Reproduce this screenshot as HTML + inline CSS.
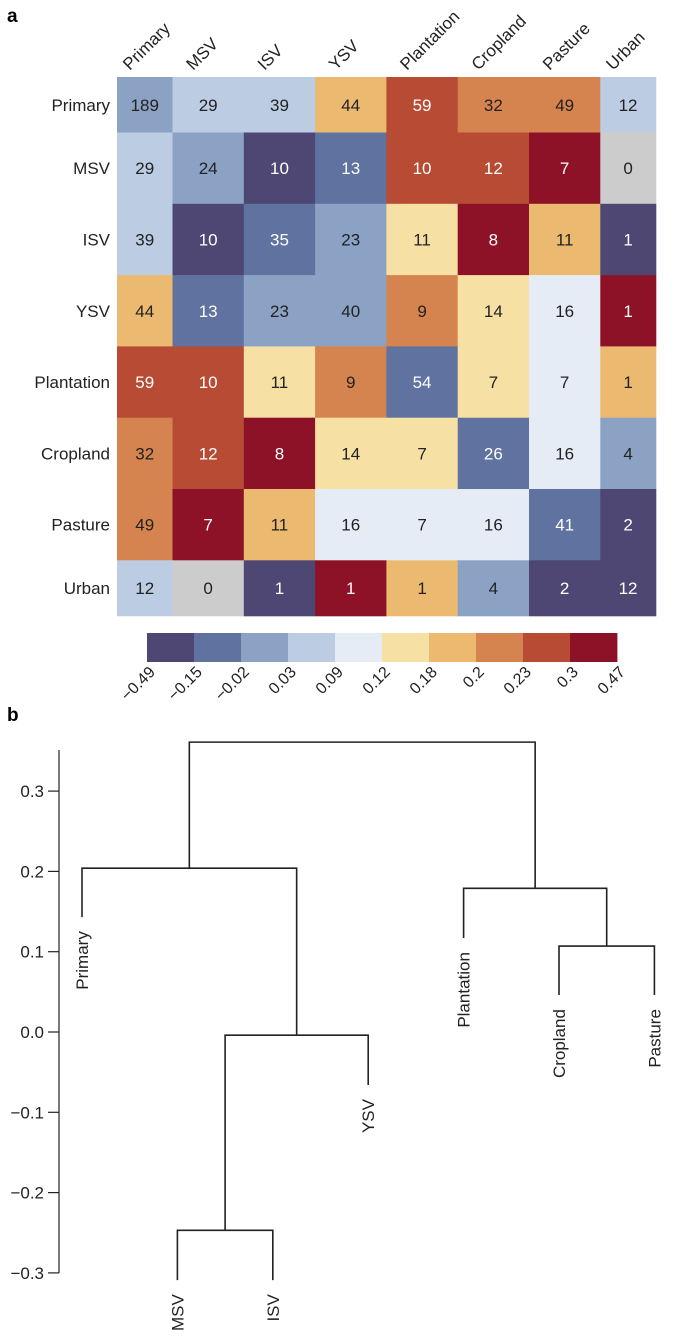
<!DOCTYPE html>
<html><head><meta charset="utf-8">
<style>
html,body{margin:0;padding:0;background:#fff;}
svg{display:block;font-family:"Liberation Sans",sans-serif;}
</style></head>
<body>
<svg id="fig" width="685" height="1337" viewBox="0 0 685 1337">
<text x="7" y="22" font-size="19" font-weight="bold">a</text>
<text x="7" y="721" font-size="19" font-weight="bold">b</text>
<g id="heat"></g>
<g id="cbar"></g>
<g id="dendro"></g>
</svg>
<script>
const categories = ["Primary","MSV","ISV","YSV","Plantation","Cropland","Pasture","Urban"];
const counts = [
 [189,29,39,44,59,32,49,12],
 [29,24,10,13,10,12,7,0],
 [39,10,35,23,11,8,11,1],
 [44,13,23,40,9,14,16,1],
 [59,10,11,9,54,7,7,1],
 [32,12,8,14,7,26,16,4],
 [49,7,11,16,7,16,41,2],
 [12,0,1,1,1,4,2,12]
];
// correlation values (null = not available, grey)
const corr = [
 [0.0,0.06,0.06,0.19,0.26,0.21,0.21,0.06],
 [0.06,0.0,-0.3,-0.1,0.26,0.26,0.4,null],
 [0.06,-0.3,-0.1,0.0,0.15,0.4,0.19,-0.3],
 [0.19,-0.1,0.0,0.0,0.21,0.15,0.1,0.4],
 [0.26,0.26,0.15,0.21,-0.1,0.15,0.1,0.19],
 [0.21,0.26,0.4,0.15,0.15,-0.1,0.1,0.0],
 [0.21,0.4,0.19,0.1,0.1,0.1,-0.1,-0.3],
 [0.06,null,-0.3,0.4,0.19,0.0,-0.3,-0.3]
];
const breaks = [-0.49,-0.15,-0.02,0.03,0.09,0.12,0.18,0.2,0.23,0.3,0.47];
const breakLabels = ["\u22120.49","\u22120.15","\u22120.02","0.03","0.09","0.12","0.18","0.2","0.23","0.3","0.47"];
const palette = ["#4e4774","#5f72a0","#8ba2c4","#bccde3","#e6ecf5","#f7e0a4","#ebba70","#d5844f","#b74b33","#8d1227"];

const leafNames = ["Primary","MSV","ISV","YSV","Plantation","Cropland","Pasture"];
const leafHeights = [0.143,-0.309,-0.309,-0.066,0.117,0.046,0.046];
const mergeA = [1,7,0,5,4,9];
const mergeB = [2,3,8,6,10,11];
const mergeH = [-0.247,-0.004,0.204,0.107,0.179,0.361];
const yTicks = [0.3,0.2,0.1,0.0,-0.1,-0.2,-0.3];
const yTickLabels = ["0.3","0.2","0.1","0.0","\u22120.1","\u22120.2","\u22120.3"];

const NS="http://www.w3.org/2000/svg";
function mk(tag,attrs,parent){const e=document.createElementNS(NS,tag);for(const k in attrs)e.setAttribute(k,attrs[k]);parent.appendChild(e);return e;}

const hx0=117,hy0=77,edge=55.5,mid=71.3;
function cellPos(i){return i===0?0:edge+(i-1)*mid;}
function cellSize(i){return (i===0||i===categories.length-1)?edge:mid;}
function colorFor(v){if(v===null)return "#cccccc";for(let k=0;k<palette.length;k++){if(v<=breaks[k+1])return palette[k];}return palette[palette.length-1];}
function darkBin(v){if(v===null)return false;const c=colorFor(v);return c===palette[0]||c===palette[1]||c===palette[8]||c===palette[9];}

const heat=document.getElementById('heat');
for(let r=0;r<categories.length;r++){
 for(let c=0;c<categories.length;c++){
  const x=hx0+cellPos(c),y=hy0+cellPos(r),w=cellSize(c),h=cellSize(r);
  const rect=mk('rect',{x:x,y:y,width:w+0.5,height:h+0.5,fill:colorFor(corr[r][c])},heat);
  
  
  const t=mk('text',{x:x+w/2,y:y+h/2+6,'text-anchor':'middle','font-size':17,fill:darkBin(corr[r][c])?'#fff':'#222'},heat);
  t.textContent=counts[r][c];
  
  
 }
}
for(let i=0;i<categories.length;i++){
 const cy=hy0+cellPos(i)+cellSize(i)/2;
 const rl=mk('text',{x:110,y:cy+6,'text-anchor':'end','font-size':17,fill:'#222'},heat);
 rl.textContent=categories[i];
 
 
 const cx=hx0+cellPos(i)+cellSize(i)/2;
 const cl=mk('text',{x:cx-15,y:71,'font-size':17,fill:'#222',transform:'rotate(-45 '+(cx-15)+' 71)'},heat);
 cl.textContent=categories[i];
 
 
}

const cb=document.getElementById('cbar');
const cbx0=147,cbx1=617,cby=633,cbh=29;
const sw=(cbx1-cbx0)/palette.length;
for(let k=0;k<palette.length;k++){
 const r=mk('rect',{x:cbx0+k*sw,y:cby,width:sw+0.4,height:cbh,fill:palette[k]},cb);
 
 
}
for(let k=0;k<breakLabels.length;k++){
 const lx=cbx0+k*sw+9,ly=673;
 const t=mk('text',{x:lx,y:ly,'text-anchor':'end','font-size':16,fill:'#222',transform:'rotate(-45 '+lx+' '+ly+')'},cb);
 t.textContent=breakLabels[k];
 
 
}

const dg=document.getElementById('dendro');
function yS(v){return 1032-v*803;}
function xS(i){return 82+95.4*i;}
const ax=mk('line',{x1:59,y1:750,x2:59,y2:yS(-0.3),stroke:'#222','stroke-width':1.2},dg);


for(let i=0;i<yTicks.length;i++){
 const y=yS(yTicks[i]);
 const tk=mk('line',{x1:48,y1:y,x2:59,y2:y,stroke:'#222','stroke-width':1.2},dg);
 
 
 const tl=mk('text',{x:44,y:y+6,'text-anchor':'end','font-size':17,fill:'#222'},dg);
 tl.textContent=yTickLabels[i];
 
 
}
const nodeX=[],nodeH=[];
for(let i=0;i<leafNames.length;i++){nodeX.push(xS(i));nodeH.push(leafHeights[i]);}
for(let m=0;m<mergeH.length;m++){
 const a=mergeA[m],b=mergeB[m],h=mergeH[m];
 const xa=nodeX[a],xb=nodeX[b];
 const p=mk('path',{d:'M'+xa+' '+yS(nodeH[a])+'V'+yS(h)+'H'+xb+'V'+yS(nodeH[b]),fill:'none',stroke:'#222','stroke-width':1.6},dg);
 
 
 nodeX.push((xa+xb)/2);nodeH.push(h);
}
for(let i=0;i<leafNames.length;i++){
 const lx=xS(i)+6,ly=yS(leafHeights[i])+14;
 const t=mk('text',{x:lx,y:ly,'text-anchor':'end','font-size':17,fill:'#222',transform:'rotate(-90 '+lx+' '+ly+')'},dg);
 t.textContent=leafNames[i];
 
 
}
</script>
</body></html>
